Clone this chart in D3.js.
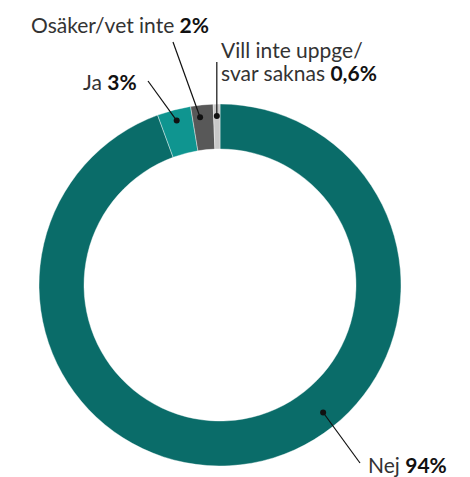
<!DOCTYPE html>
<html>
<head>
<meta charset="utf-8">
<script src="https://cdn.jsdelivr.net/npm/d3@7"></script>
<style>
  body { margin: 0; background: #fff; }
  svg text { font-family: Lato, "Open Sans", sans-serif; }
</style>
</head>
<body>
<div id="chart"></div>
<script>
// Data
var categories = ["Nej", "Ja", "Osäker/vet inte", "Vill inte uppge/svar saknas"];
var values = [94.4, 3.0, 2.0, 0.6];
var valueLabels = ["94%", "3%", "2%", "0,6%"];
var colors = ["#0a6c69", "#0f9590", "#585858", "#c8c8c8"];

// SVG area
var svgWidth = 470;
var svgHeight = 477;
var cx = 220, cy = 285;
var outerR = 181, innerR = 136;

var svg = d3.select("#chart")
  .append("svg")
  .attr("width", svgWidth)
  .attr("height", svgHeight);

var g = svg.append("g").attr("transform", `translate(${cx}, ${cy})`);

var pie = d3.pie().sort(null).value(d => d.value);
var arc = d3.arc().innerRadius(innerR).outerRadius(outerR);

var data = categories.map((c, i) => ({ name: c, value: values[i], label: valueLabels[i], color: colors[i] }));
var arcs = pie(data);

g.selectAll("path.slice")
  .data(arcs)
  .enter()
  .append("path")
  .attr("class", "slice")
  .attr("d", arc)
  .attr("fill", d => d.data.color)
  .attr("stroke", "#fff")
  .attr("stroke-width", 0.4);

// label layout: where the dot sits inside the slice, and where the text goes
var labelLayout = [
  { frac: 0.415, r: 164, lineEnd: [360, 463], text: [368, 473], lines: ["Nej"] },
  { frac: 0.5, r: 170, lineEnd: [148, 81], text: [83, 90], lines: ["Ja"] },
  { frac: 0.36, r: 169, lineEnd: [173, 42], text: [31, 33], lines: ["Osäker/vet inte"] },
  { frac: 0.5, r: 169, lineEnd: null, text: [221, 58], lines: ["Vill inte uppge/", "svar saknas"] }
];

arcs.forEach(function(a, i) {
  var L = labelLayout[i];
  var ang = a.startAngle + (a.endAngle - a.startAngle) * L.frac;
  var px = cx + L.r * Math.sin(ang);
  var py = cy - L.r * Math.cos(ang);
  var end = L.lineEnd || [px, 62];

  svg.append("line")
    .attr("x1", px).attr("y1", py)
    .attr("x2", end[0]).attr("y2", end[1])
    .attr("stroke", "#111")
    .attr("stroke-width", 1.2);

  svg.append("circle")
    .attr("cx", px).attr("cy", py)
    .attr("r", 3)
    .attr("fill", "#111");

  var t = svg.append("text")
    .attr("x", L.text[0])
    .attr("y", L.text[1])
    .attr("font-size", 21)
    .attr("fill", "#333");
  L.lines.forEach(function(line, j) {
    var ts = t.append("tspan").text(line + (j === L.lines.length - 1 ? " " : ""));
    if (j > 0) ts.attr("x", L.text[0]).attr("dy", 23);
  });
  t.append("tspan")
    .attr("font-weight", "bold")
    .attr("fill", "#111")
    .text(a.data.label);
});
</script>
</body>
</html>
